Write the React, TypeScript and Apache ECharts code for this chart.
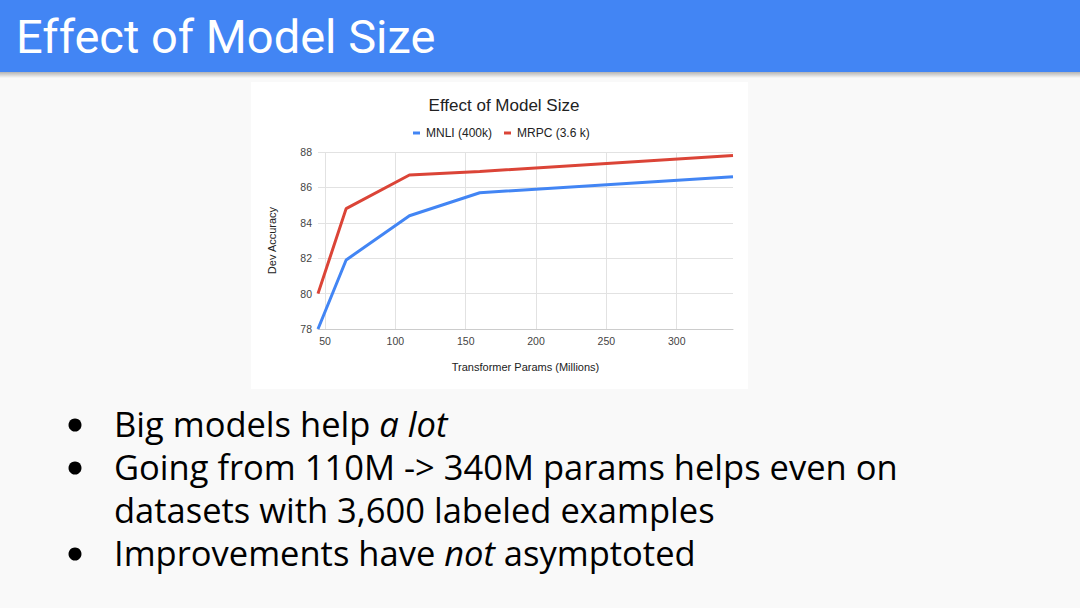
import React, { useEffect, useRef } from "react";
import * as echarts from "echarts";

const slideTitle = "Effect of Model Size";
const chartTitle = "Effect of Model Size";
const params = [45, 65, 110, 160, 340];
const mnli = [78.0, 81.9, 84.4, 85.7, 86.6];
const mrpc = [80.0, 84.8, 86.7, 86.9, 87.8];
const seriesNames = ["MNLI (400k)", "MRPC (3.6 k)"];
const xTicks = [50, 100, 150, 200, 250, 300];
const bullets = [
  { text: "Big models help {i|a lot}", dot: true },
  { text: "Going from 110M -> 340M params helps even on", dot: true },
  { text: "datasets with 3,600 labeled examples", dot: false },
  { text: "Improvements have {i|not} asymptoted", dot: true },
];

export default function App() {
  const ref = useRef<HTMLDivElement>(null);
  useEffect(() => {
    if (!ref.current) return;
    const chart = echarts.init(ref.current, null, { renderer: "svg" });
    const bulletY = [423, 466, 509, 552];
    const graphics: any[] = [
      { type: "rect", z: -10, shape: { x: 0, y: 0, width: 1080, height: 608 }, style: { fill: "#f9f9f9" } },
      {
        type: "rect", z: -9, shape: { x: 0, y: 72, width: 1080, height: 6 },
        style: {
          fill: new echarts.graphic.LinearGradient(0, 0, 0, 1, [
            { offset: 0, color: "rgba(0,0,0,0.28)" },
            { offset: 1, color: "rgba(0,0,0,0)" },
          ]),
        },
      },
      { type: "rect", z: -8, shape: { x: 0, y: 0, width: 1080, height: 72 }, style: { fill: "#4285f4" } },
      {
        type: "text", x: 16, y: 36,
        style: { text: slideTitle, fill: "#ffffff", font: "47px Roboto", verticalAlign: "middle", align: "left" },
      },
      { type: "rect", z: -7, shape: { x: 251, y: 82, width: 497, height: 307 }, style: { fill: "#ffffff" } },
    ];
    bullets.forEach((b, i) => {
      if (b.dot) {
        graphics.push({ type: "circle", shape: { cx: 75, cy: bulletY[i] + 2, r: 6.5 }, style: { fill: "#000000" } });
      }
      graphics.push({
        type: "text", x: 114, y: bulletY[i],
        style: {
          text: b.text, fill: "#000000", font: "34.5px 'Open Sans'", verticalAlign: "middle", align: "left",
          rich: { i: { fontStyle: "italic", fontSize: 34.5, fontFamily: "Open Sans", fill: "#000000" } },
        },
      });
    });

    chart.setOption({
      animation: false,
      title: {
        text: chartTitle, left: 499, top: 92, textAlign: "center",
        textStyle: { fontFamily: "Liberation Sans, Arial", fontSize: 17, fontWeight: "normal", color: "#222222" },
      },
      legend: {
        left: 408, top: 122, icon: "rect", itemWidth: 7, itemHeight: 3, itemGap: 12,
        textStyle: { fontFamily: "Liberation Sans, Arial", fontSize: 12, color: "#222222", padding: [0, 0, 0, 1] },
        data: seriesNames,
      },
      grid: { left: 318, right: 347, top: 152, bottom: 279, containLabel: false },
      xAxis: {
        type: "value", min: 45, max: 340,
        name: "Transformer Params (Millions)", nameLocation: "middle", nameGap: 32,
        nameTextStyle: { fontFamily: "Liberation Sans, Arial", fontSize: 11, color: "#222222" },
        axisLine: { show: true, lineStyle: { color: "#cccccc", width: 1 } },
        axisTick: { show: false, customValues: xTicks },
        axisLabel: { customValues: xTicks, fontFamily: "Liberation Sans, Arial", fontSize: 10.5, color: "#444444", margin: 6 },
        splitLine: { show: true, lineStyle: { color: "#e2e2e2", width: 1 } },
      },
      yAxis: {
        type: "value", min: 78, max: 88, interval: 2,
        name: "Dev Accuracy", nameLocation: "middle", nameGap: 41,
        nameTextStyle: { fontFamily: "Liberation Sans, Arial", fontSize: 11, color: "#222222" },
        axisLine: { show: false }, axisTick: { show: false },
        axisLabel: { fontFamily: "Liberation Sans, Arial", fontSize: 10.5, color: "#444444", margin: 6 },
        splitLine: { show: true, lineStyle: { color: "#e2e2e2", width: 1 } },
      },
      series: [
        {
          name: seriesNames[0], type: "line", showSymbol: false, symbol: "none",
          data: params.map((p, i) => [p, mnli[i]]),
          lineStyle: { color: "#4285f4", width: 3 }, itemStyle: { color: "#4285f4" },
        },
        {
          name: seriesNames[1], type: "line", showSymbol: false, symbol: "none",
          data: params.map((p, i) => [p, mrpc[i]]),
          lineStyle: { color: "#db4437", width: 3 }, itemStyle: { color: "#db4437" },
        },
      ],
      graphic: graphics,
    });
    return () => chart.dispose();
  }, []);
  return (
    <div
      ref={ref}
      style={{ position: "absolute", left: 0, top: 0, width: 1080, height: 608 }}
    />
  );
}
